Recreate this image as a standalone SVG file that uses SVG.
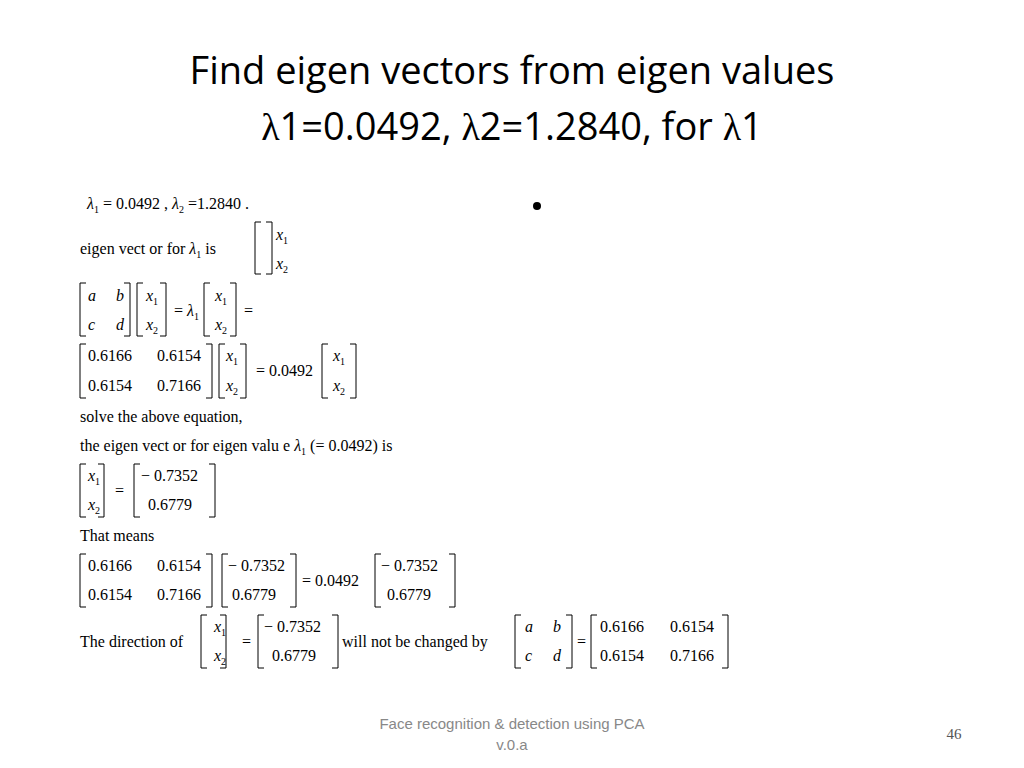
<svg xmlns="http://www.w3.org/2000/svg" width="1024" height="768" viewBox="0 0 1024 768">
<style>
.t{font-family:"Open Sans","Liberation Sans",sans-serif;font-size:38px;fill:#000}
.m{font-family:"Liberation Serif",serif;font-size:16px;fill:#000}
.i{font-style:italic}
.s{font-size:10px}
.b{fill:none;stroke:#000;stroke-width:1}
.f{font-family:"Liberation Sans",sans-serif;font-size:15px;fill:#888}
</style>
<rect width="1024" height="768" fill="#fff"/>
<text class="t" x="512" y="84" text-anchor="middle">Find eigen vectors from eigen values</text>
<text class="t" x="512" y="140" text-anchor="middle"><tspan font-family="Liberation Serif,serif">λ</tspan>1=0.0492, <tspan font-family="Liberation Serif,serif">λ</tspan>2=1.2840, for <tspan font-family="Liberation Serif,serif">λ</tspan>1</text>
<circle cx="537" cy="206" r="4" fill="#000"/>
<g class="m">
<text x="87" y="209"><tspan class="i">λ</tspan><tspan class="s" dy="4">1</tspan><tspan dy="-4"> =  0.0492 , </tspan><tspan class="i">λ</tspan><tspan class="s" dy="4">2</tspan><tspan dy="-4"> =1.2840 .</tspan></text>
<text x="80" y="254">eigen vect or for <tspan class="i">λ</tspan><tspan class="s" dy="4">1</tspan><tspan dy="-4"> is</tspan></text>
<text x="276" y="240" class="i">x<tspan class="s" dy="4" font-style="normal">1</tspan></text>
<text x="276" y="269" class="i">x<tspan class="s" dy="4" font-style="normal">2</tspan></text>
<path class="b" d="M261 222H255V274H261M266 222H272V274H266"/>
<!-- row a b -->
<text x="88" y="301" class="i">a</text><text x="116" y="301" class="i">b</text>
<text x="88" y="330" class="i">c</text><text x="116" y="330" class="i">d</text>
<path class="b" d="M86 283H80V336H86M124 283H130V336H124"/>
<text x="146" y="301" class="i">x<tspan class="s" dy="4" font-style="normal">1</tspan></text>
<text x="146" y="330" class="i">x<tspan class="s" dy="4" font-style="normal">2</tspan></text>
<path class="b" d="M143 283H137V336H143M160 283H166V336H160"/>
<text x="174" y="316">= <tspan class="i">λ</tspan><tspan class="s" dy="4">1</tspan></text>
<text x="215" y="301" class="i">x<tspan class="s" dy="4" font-style="normal">1</tspan></text>
<text x="215" y="330" class="i">x<tspan class="s" dy="4" font-style="normal">2</tspan></text>
<path class="b" d="M210 283H204V336H210M230 283H236V336H230"/>
<text x="244" y="316">=</text>
<!-- numeric -->
<text x="88" y="361">0.6166</text><text x="157" y="361">0.6154</text>
<text x="88" y="391">0.6154</text><text x="157" y="391">0.7166</text>
<path class="b" d="M86 344H80V398H86M206 344H212V398H206"/>
<text x="226" y="361" class="i">x<tspan class="s" dy="4" font-style="normal">1</tspan></text>
<text x="226" y="391" class="i">x<tspan class="s" dy="4" font-style="normal">2</tspan></text>
<path class="b" d="M225 344H219V398H225M240 344H246V398H240"/>
<text x="256" y="376">= 0.0492</text>
<text x="333" y="361" class="i">x<tspan class="s" dy="4" font-style="normal">1</tspan></text>
<text x="333" y="391" class="i">x<tspan class="s" dy="4" font-style="normal">2</tspan></text>
<path class="b" d="M328 344H322V398H328M350 344H356V398H350"/>
<text x="80" y="422">solve  the above equation,</text>
<text x="80" y="451">the eigen vect or for eigen valu e <tspan class="i">λ</tspan><tspan class="s" dy="4">1</tspan><tspan dy="-4"> (= 0.0492)  is</tspan></text>
<text x="88" y="481" class="i">x<tspan class="s" dy="4" font-style="normal">1</tspan></text>
<text x="88" y="510" class="i">x<tspan class="s" dy="4" font-style="normal">2</tspan></text>
<path class="b" d="M86 464H80V517H86M98 464H104V517H98"/>
<text x="115" y="496">=</text>
<text x="141" y="481">− 0.7352</text><text x="148" y="510">0.6779</text>
<path class="b" d="M140 464H134V517H140M209 464H215V517H209"/>
<text x="80" y="541">That means</text>
<text x="88" y="571">0.6166</text><text x="157" y="571">0.6154</text>
<text x="88" y="600">0.6154</text><text x="157" y="600">0.7166</text>
<path class="b" d="M86 554H80V607H86M206 554H212V607H206"/>
<text x="228" y="571">− 0.7352</text><text x="232" y="600">0.6779</text>
<path class="b" d="M228 554H222V607H228M290 554H296V607H290"/>
<text x="302" y="586">= 0.0492</text>
<text x="381" y="571">− 0.7352</text><text x="387" y="600">0.6779</text>
<path class="b" d="M381 554H375V607H381M449 554H455V607H449"/>
<text x="80" y="647">The direction  of</text>
<text x="214" y="632" class="i">x<tspan class="s" dy="4" font-style="normal">1</tspan></text>
<text x="214" y="661" class="i">x<tspan class="s" dy="4" font-style="normal">2</tspan></text>
<path class="b" d="M207 615H201V668H207M220 615H226V668H220"/>
<text x="242" y="647">=</text>
<text x="264" y="632">− 0.7352</text><text x="272" y="661">0.6779</text>
<path class="b" d="M264 615H258V668H264M332 615H338V668H332"/>
<text x="342" y="647">will  not  be changed  by</text>
<text x="525" y="632" class="i">a</text><text x="553" y="632" class="i">b</text>
<text x="525" y="661" class="i">c</text><text x="553" y="661" class="i">d</text>
<path class="b" d="M521 615H515V668H521M566 615H572V668H566"/>
<text x="577" y="647">=</text>
<text x="600" y="632">0.6166</text><text x="670" y="632">0.6154</text>
<text x="600" y="661">0.6154</text><text x="670" y="661">0.7166</text>
<path class="b" d="M597 615H591V668H597M722 615H728V668H722"/>
</g>
<text class="f" x="512" y="729" text-anchor="middle">Face recognition &amp; detection using PCA</text>
<text class="f" x="512" y="750" text-anchor="middle">v.0.a</text>
<text class="f" x="954" y="739" text-anchor="middle" style="font-family:'Liberation Serif',serif;fill:#555">46</text>
</svg>
